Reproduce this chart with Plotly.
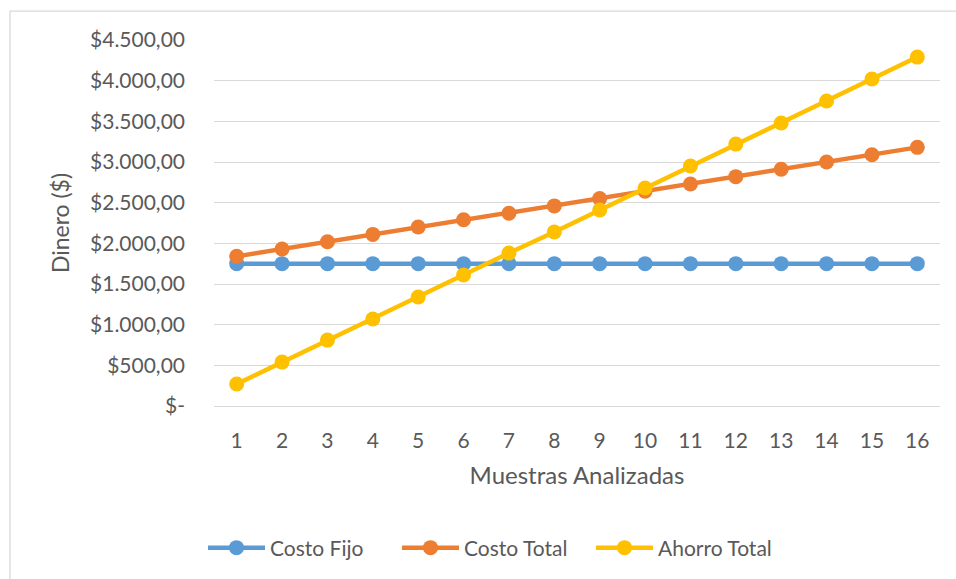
import plotly.graph_objects as go

muestras = [str(i) for i in range(1, 17)]
costo_fijo = [1750] * 16
costo_total = [1840, 1930, 2020, 2110, 2200, 2290, 2370, 2460, 2550, 2640, 2730, 2820, 2910, 3000, 3090, 3180]
ahorro_total = [270, 540, 810, 1070, 1340, 1610, 1880, 2140, 2410, 2680, 2950, 3220, 3480, 3750, 4020, 4290]
tick_vals = [0, 500, 1000, 1500, 2000, 2500, 3000, 3500, 4000, 4500]
tick_text = ["$-", "$500,00", "$1.000,00", "$1.500,00", "$2.000,00", "$2.500,00",
             "$3.000,00", "$3.500,00", "$4.000,00", "$4.500,00"]

FONT = "Lato"
TXT = "#595959"

fig = go.Figure()
for name, vals, col in [("Costo Fijo", costo_fijo, "#5B9BD5"),
                        ("Costo Total", costo_total, "#ED7D31"),
                        ("Ahorro Total", ahorro_total, "#FFC000")]:
    fig.add_trace(go.Scatter(x=muestras, y=vals, name=name, mode="lines+markers",
                             line=dict(color=col, width=4.5),
                             marker=dict(color=col, size=15)))

fig.update_layout(
    width=956, height=579,
    margin=dict(l=214, r=16, t=40, b=172),
    paper_bgcolor="white", plot_bgcolor="white",
    font=dict(family=FONT, size=21, color=TXT),
    xaxis=dict(type="category", range=[-0.5, 15.5], showgrid=False, showline=False, ticks="",
               ticklabelstandoff=20,
               tickfont=dict(size=21, color=TXT),
               title=dict(text="Muestras Analizadas", font=dict(size=24, color=TXT), standoff=16)),
    yaxis=dict(range=[0, 4500], tickvals=tick_vals, ticktext=tick_text,
               showgrid=True, gridcolor="#D9D9D9", gridwidth=1.3, zeroline=True,
               zerolinecolor="#D9D9D9", zerolinewidth=1.3, ticks="", ticklabelstandoff=28,
               tickfont=dict(size=21, color=TXT),
               title=dict(text="Dinero ($)", font=dict(size=23, color=TXT), standoff=13)),
    legend=dict(orientation="h", x=(203 - 214) / 726, xanchor="left", y=-(548 - 407) / 367, yanchor="middle",
                font=dict(size=21, color=TXT), itemwidth=57, traceorder="normal",
                entrywidth=122, entrywidthmode="pixels"),
    showlegend=True,
)
fig.add_shape(type="rect", xref="paper", yref="paper",
              x0=-204/726, x1=1 + 100/726, y0=-250/367, y1=1 + 29/367,
              line=dict(color="#D9D9D9", width=1.3), fillcolor="rgba(0,0,0,0)", layer="below")
fig.write_html("out.html")
